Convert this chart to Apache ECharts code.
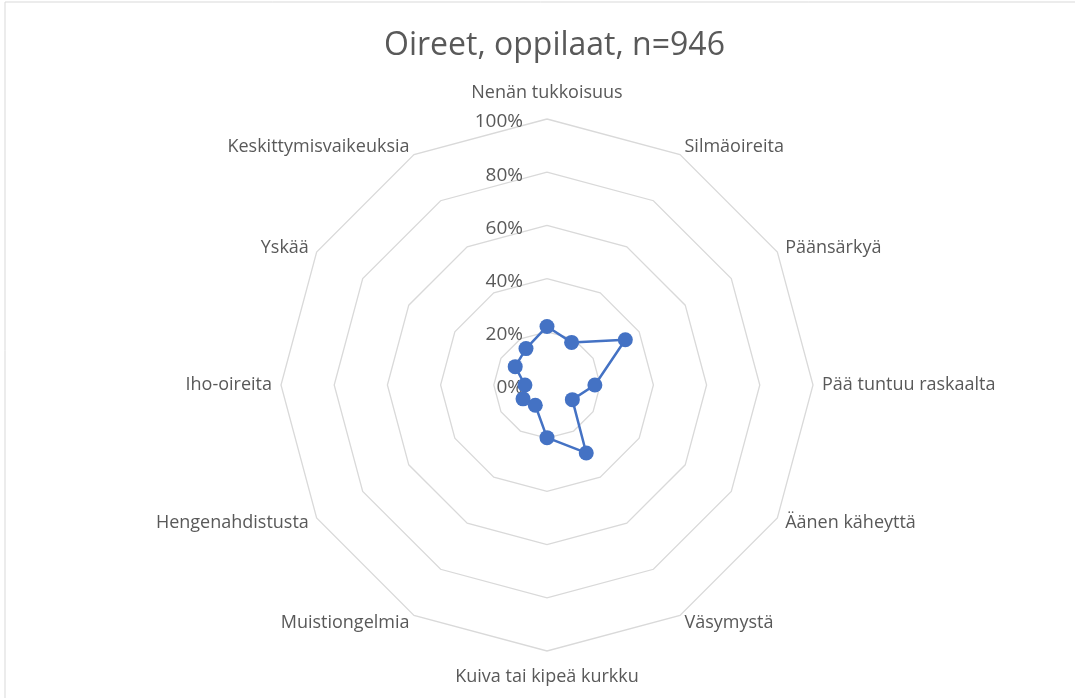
<!DOCTYPE html>
<html>
<head>
<meta charset="utf-8">
<script src="https://cdn.jsdelivr.net/npm/echarts@6/dist/echarts.min.js"></script>
<style>
  html, body { margin: 0; padding: 0; background: #fff; }
  #chart { width: 1075px; height: 698px; }
</style>
</head>
<body>
<div id="chart"></div>
<script>
// oireet ja osuudet (0..1), myötäpäivään ylhäältä
var symptoms = ['Nenän tukkoisuus', 'Silmäoireita', 'Päänsärkyä', 'Pää tuntuu raskaalta',
  'Äänen käheyttä', 'Väsymystä', 'Kuiva tai kipeä kurkku', 'Muistiongelmia',
  'Hengenahdistusta', 'Iho-oireita', 'Yskää', 'Keskittymisvaikeuksia']
var shares = [0.22, 0.185, 0.34, 0.18, 0.11, 0.295, 0.198, 0.088, 0.104, 0.083, 0.138, 0.158]
var tickMax = 1
var tickStep = 0.2

// echarts radar kiertää vastapäivään -> käännetään järjestys (eka pysyy ylhäällä)
function cw(arr) { return [arr[0]].concat(arr.slice(1).reverse()) }

var myChart = echarts.init(document.getElementById('chart'))
var center = [547, 385]
var radius = 266
var grey = '#595959'

myChart.setOption({
  animation: false,
  title: {
    text: 'Oireet, oppilaat, n=946',
    left: 379,
    top: 25,
    textStyle: { fontFamily: 'Open Sans', fontSize: 32, fontWeight: 'normal', color: grey }
  },
  radar: {
    center: center,
    radius: radius,
    startAngle: 90,
    shape: 'polygon',
    splitNumber: 5,
    indicator: cw(symptoms).map(function (s) { return { name: s, min: 0, max: tickMax } }),
    axisName: { color: grey, fontFamily: 'Open Sans', fontSize: 18, padding: [8, 0, 8, 0] },
    nameGap: 9,
    axisLine: { show: false },
    axisTick: { show: false },
    axisLabel: { show: false },
    splitArea: { show: false },
    splitLine: { lineStyle: { color: '#d9d9d9', width: 1.3 } }
  },
  // polar vain prosenttiasteikkoa varten (hieman alemmas kuten Excelissä)
  polar: { center: [center[0], center[1] + 3], radius: [0, radius] },
  angleAxis: { show: false, startAngle: 90, min: 0, max: 360 },
  radiusAxis: {
    min: 0,
    max: tickMax,
    interval: tickStep,
    axisLine: { show: false },
    axisTick: { show: false },
    splitLine: { show: false },
    axisLabel: {
      color: grey,
      fontFamily: 'Open Sans',
      fontSize: 19,
      margin: 24,
      formatter: function (v) { return Math.round(v * 100) + '%' }
    }
  },
  series: [{
    type: 'radar',
    symbol: 'circle',
    symbolSize: 15,
    lineStyle: { color: '#4472C4', width: 2.5 },
    itemStyle: { color: '#4472C4' },
    data: [{ value: cw(shares), name: 'Oppilaat' }]
  }],
  graphic: [{
    type: 'rect',
    shape: { x: 5, y: 2, width: 1100, height: 720 },
    style: { fill: 'none', stroke: '#d9d9d9', lineWidth: 1 }
  }]
})
</script>
</body>
</html>
